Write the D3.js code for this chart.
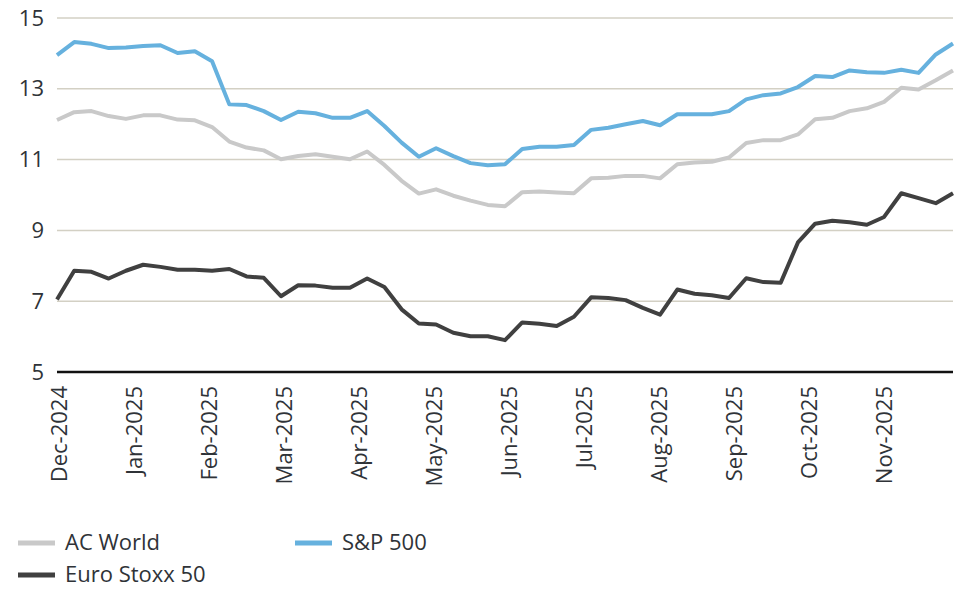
<!DOCTYPE html>
<html>
<head>
<meta charset="utf-8">
<script src="https://cdn.jsdelivr.net/npm/d3@7"></script>
<style>
  body { margin: 0; background: #fff; }
  svg { display: block; font-family: "Open Sans", sans-serif; }
</style>
</head>
<body>
<svg id="chart" width="962" height="589"></svg>
<script>
// weekly values, Dec-2024 .. Nov-2025
const acWorld = [12.12, 12.34, 12.37, 12.23, 12.15, 12.25, 12.25, 12.13, 12.11, 11.92,
  11.51, 11.34, 11.26, 11.01, 11.10, 11.15, 11.08, 11.01, 11.23, 10.85,
  10.40, 10.04, 10.16, 9.98, 9.84, 9.72, 9.68, 10.08, 10.10, 10.07,
  10.05, 10.47, 10.49, 10.54, 10.54, 10.47, 10.87, 10.92, 10.94, 11.06,
  11.47, 11.55, 11.55, 11.71, 12.14, 12.18, 12.37, 12.45, 12.63, 13.03,
  12.98, 13.24, 13.52];
const sp500 = [13.95, 14.32, 14.27, 14.15, 14.17, 14.21, 14.23, 14.01, 14.06, 13.78,
  12.56, 12.54, 12.37, 12.12, 12.35, 12.31, 12.18, 12.18, 12.37, 11.95,
  11.48, 11.08, 11.32, 11.10, 10.90, 10.84, 10.87, 11.30, 11.36, 11.36,
  11.41, 11.84, 11.90, 12.00, 12.09, 11.97, 12.28, 12.28, 12.28, 12.37,
  12.70, 12.82, 12.87, 13.05, 13.36, 13.33, 13.52, 13.47, 13.45, 13.54,
  13.45, 13.97, 14.28];
const euroStoxx = [7.05, 7.86, 7.83, 7.64, 7.86, 8.03, 7.97, 7.89, 7.89, 7.86,
  7.91, 7.70, 7.66, 7.14, 7.45, 7.44, 7.38, 7.38, 7.64, 7.40,
  6.77, 6.37, 6.34, 6.11, 6.01, 6.01, 5.90, 6.40, 6.36, 6.30,
  6.56, 7.11, 7.09, 7.03, 6.81, 6.62, 7.33, 7.21, 7.17, 7.09,
  7.65, 7.54, 7.52, 8.66, 9.19, 9.27, 9.23, 9.16, 9.38, 10.05,
  9.91, 9.77, 10.05];
const monthLabels = ['Dec-2024', 'Jan-2025', 'Feb-2025', 'Mar-2025', 'Apr-2025', 'May-2025',
  'Jun-2025', 'Jul-2025', 'Aug-2025', 'Sep-2025', 'Oct-2025', 'Nov-2025'];
const yTicks = [5, 7, 9, 11, 13, 15];

const series = [
  { name: 'AC World', values: acWorld, color: '#c9c9c9' },
  { name: 'S&P 500', values: sp500, color: '#66b1de' },
  { name: 'Euro Stoxx 50', values: euroStoxx, color: '#404040' }
];

const margin = { left: 57, right: 9, top: 18, bottom: 217 };
const width = 962, height = 589;
const fontSize = '22px';
const svg = d3.select('#chart');

const x = d3.scaleLinear()
  .domain([0, acWorld.length - 1])
  .range([margin.left, width - margin.right]);
// months are evenly spaced; 52 weeks ~ 11.96 months
const xm = d3.scaleLinear()
  .domain([0, (acWorld.length - 1) * 7 / 30.44])
  .range([margin.left, width - margin.right]);
const y = d3.scaleLinear()
  .domain([5, 15])
  .range([height - margin.bottom, margin.top]);

// gridlines
svg.append('g')
  .selectAll('line')
  .data(yTicks.filter(d => d !== 5))
  .join('line')
  .attr('x1', margin.left)
  .attr('x2', width - margin.right)
  .attr('y1', d => y(d))
  .attr('y2', d => y(d))
  .attr('stroke', '#d3d0c4')
  .attr('stroke-width', 1.5);

// y labels
svg.append('g')
  .attr('transform', `translate(${margin.left - 13},0)`)
  .call(d3.axisLeft(y).tickValues(yTicks).tickSize(0).tickPadding(0))
  .call(g => g.select('.domain').remove())
  .call(g => g.selectAll('text')
    .attr('fill', '#2f3338')
    .style('font-size', fontSize)
    .style('font-family', '"Open Sans", sans-serif'));

// lines
const line = d3.line()
  .x((d, i) => x(i))
  .y(d => y(d));

svg.append('g')
  .selectAll('path')
  .data(series)
  .join('path')
  .attr('fill', 'none')
  .attr('stroke', d => d.color)
  .attr('stroke-width', 4)
  .attr('stroke-linejoin', 'round')
  .attr('d', d => line(d.values));

// x axis baseline
svg.append('line')
  .attr('x1', margin.left)
  .attr('x2', width - margin.right)
  .attr('y1', y(5))
  .attr('y2', y(5))
  .attr('stroke', '#111')
  .attr('stroke-width', 2.5);

// x labels
svg.append('g')
  .attr('transform', `translate(0,${y(5)})`)
  .call(d3.axisBottom(xm).tickValues(d3.range(monthLabels.length)).tickSize(0).tickFormat(i => monthLabels[i]))
  .call(g => g.select('.domain').remove())
  .call(g => g.selectAll('text')
    .attr('fill', '#2f3338')
    .style('font-size', fontSize)
    .style('font-family', '"Open Sans", sans-serif')
    .attr('text-anchor', 'end')
    .attr('transform', 'rotate(-90)')
    .attr('x', -14)
    .attr('y', 0)
    .attr('dy', '0.45em'));

// legend
const legendItems = [
  { s: series[0], col: 0, row: 0 },
  { s: series[1], col: 1, row: 0 },
  { s: series[2], col: 0, row: 1 }
];
const legend = svg.append('g')
  .selectAll('g')
  .data(legendItems)
  .join('g')
  .attr('transform', d => `translate(${18 + d.col * 277},${543 + d.row * 32})`);

legend.append('line')
  .attr('x1', 0)
  .attr('x2', 37)
  .attr('stroke', d => d.s.color)
  .attr('stroke-width', 5);

legend.append('text')
  .attr('x', 47)
  .attr('dy', '0.33em')
  .attr('fill', '#2f3338')
  .style('font-size', fontSize)
  .text(d => d.s.name);
</script>
</body>
</html>
